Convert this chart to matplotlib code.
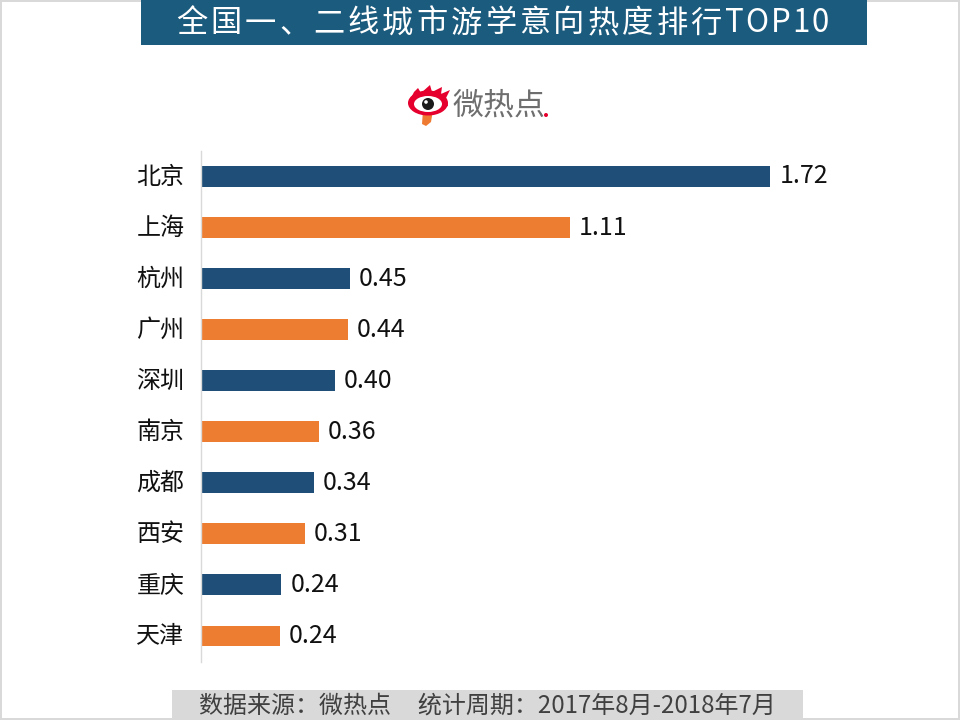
import matplotlib
matplotlib.use('Agg')
import matplotlib.pyplot as plt
from matplotlib.patches import Rectangle, Ellipse, Polygon, Circle
from matplotlib.transforms import ScaledTranslation

plt.rcParams['font.family'] = ['Noto Sans CJK SC', 'DejaVu Sans']

cities = ['北京', '上海', '杭州', '广州', '深圳', '南京', '成都', '西安', '重庆', '天津']
values = [1.72, 1.114, 0.45, 0.444, 0.404, 0.357, 0.34, 0.313, 0.243, 0.238]
title = '全国一、二线城市游学意向热度排行TOP10'
source = '数据来源：微热点     统计周期：2017年8月-2018年7月'
colors = ['#1f4e79', '#ed7d31']

W, H = 960, 720
fig = plt.figure(figsize=(9.6, 7.2), dpi=100)


# pixel box to figure fractions, y counted from the top like the screenshot
def add_box(x0, y0, x1, y1, color):
    fig.add_artist(Rectangle((x0 / W, 1 - y1 / H), (x1 - x0) / W, (y1 - y0) / H,
                             transform=fig.transFigure, color=color, lw=0))


# thin slide border
add_box(0, 0, 960, 2, '#d9d9d9')
add_box(0, 718, 960, 720, '#d9d9d9')
add_box(0, 0, 2, 720, '#d9d9d9')
add_box(958, 0, 960, 720, '#d9d9d9')

# header and footer bands
add_box(141, 0, 867, 45, '#1b5b7d')
add_box(172, 690, 803, 720, '#d9d9d9')

# title has wider letter spacing than the font, so place it char by char
renderer = fig.canvas.get_renderer()
x = 176.0
for ch in title:
    t = fig.text(x / W, 1 - 20 / H, ch, color='white', fontsize=22.5, ha='left', va='center_baseline')
    adv = t.get_window_extent(renderer).width
    x += (34.3 if ord(ch) > 255 else adv + 2)

fig.text(487.5 / W, 1 - 703 / H, source, color='#404040', fontsize=17.3, ha='center', va='center_baseline')

# chart
ax = fig.add_axes([201 / W, 1 - 661.5 / H, 700 / W, 510.5 / H])
pos = list(range(len(cities)))
ax.barh(pos, values, height=0.41, color=[colors[i % 2] for i in pos])
ax.set_xlim(0, 700 / 331)
ax.set_ylim(len(cities) - 0.5, -0.5)
ax.set_yticks(pos)
ax.set_yticklabels(cities, fontsize=17.3, color='#111111')
ax.tick_params(axis='y', length=0, pad=12)
# text sits a little above the bar centre in the reference
nudge = ScaledTranslation(0, 3 / 100, fig.dpi_scale_trans)
for lab in ax.get_yticklabels():
    lab.set_transform(lab.get_transform() + nudge)
ax.xaxis.set_visible(False)
for side in ['top', 'right', 'bottom']:
    ax.spines[side].set_visible(False)
ax.spines['left'].set_color('#d9d9d9')
ax.spines['left'].set_linewidth(1)
ax.patch.set_alpha(0)
for p, v in zip(pos, values):
    ax.annotate(f'{v:.2f}', (v, p), xytext=(6.5, 2.2), textcoords='offset points',
                va='center_baseline', ha='left', fontsize=18, color='#111111')

# logo
logo = fig.add_axes([0, 0, 1, 1])
logo.set_xlim(0, W)
logo.set_ylim(H, 0)
logo.axis('off')
logo.patch.set_alpha(0)
logo.add_patch(Polygon([(423, 110), (433, 110), (431, 122), (426, 126), (422, 124)], color='#ef7b32', lw=0))
logo.add_patch(Polygon([(410, 100), (414, 92), (418, 88), (421, 93), (430, 85), (432, 92), (442, 87),
                        (441, 94), (450, 90), (446, 98), (448, 106), (430, 110)],
                       color='#e6002d', lw=0))
logo.add_patch(Ellipse((428, 103), 40, 25, color='#e6002d', lw=0))
logo.add_patch(Ellipse((428, 104), 28, 16, color='white', lw=0))
logo.add_patch(Circle((428, 104), 6, color='#1a1a1a', lw=0))
logo.add_patch(Circle((426, 102), 1.8, color='white', lw=0))
logo.text(453, 106, '微热点', fontsize=22.3, color='#6e6e6e', va='center', ha='left')
logo.add_patch(Circle((546, 115), 2, color='#e6002d', lw=0))

fig.savefig('out.png', dpi=100)
